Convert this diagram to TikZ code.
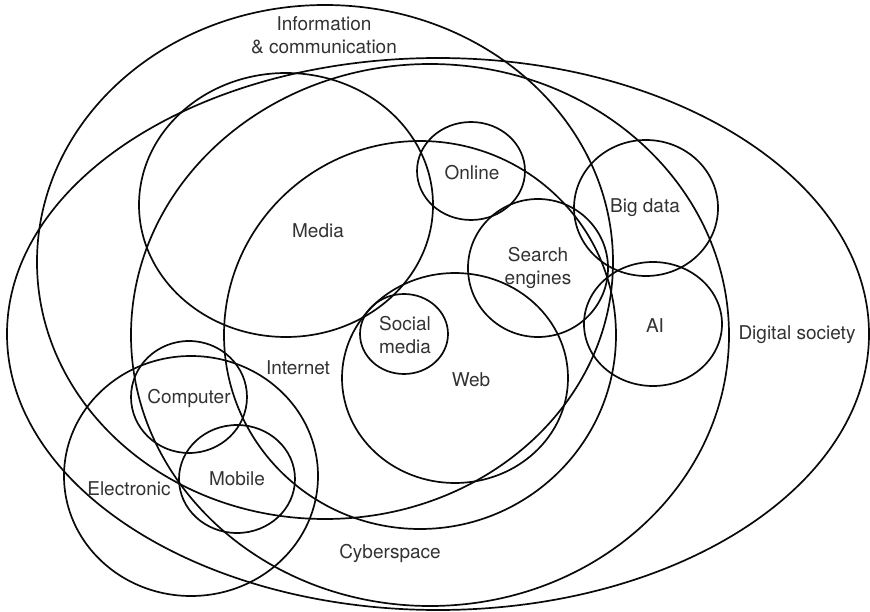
\documentclass[tikz,border=0pt]{standalone}
\usepackage{fontspec}
\setsansfont{TeX Gyre Heros}
\definecolor{ringcolor}{RGB}{10,10,10}
\definecolor{labelcolor}{RGB}{50,50,50}

\begin{document}
\begin{tikzpicture}[x=1pt, y=-1pt, font=\sffamily\fontsize{19}{23}\selectfont,
    ring/.style={draw=ringcolor, line width=1.7pt},
    lbl/.style={text=labelcolor, align=center, inner sep=0pt}]

  \useasboundingbox (0,0) rectangle (870,612);

  % ---- large domains ----
  \foreach \name/\cx/\cy/\rx/\ry in {dig/438/334/431/276, info/325/262/288/257,
                                      cyber/430/335/299/271, inet/420/335/196/194} {
    \coordinate (\name) at (\cx,\cy);
    \draw[ring] (\name) ellipse [x radius=\rx, y radius=\ry];
  }

  % ---- smaller topics ----
  \foreach \name/\cx/\cy/\rx/\ry in {media/286/205/147/132, online/471/171/54/49,
                                      search/538/268/70/69, bigdata/646/208/72/68,
                                      ai/653/324/69/62, social/404/334/44/40,
                                      web/455/378/113/105, comp/189/397/58/56,
                                      mobile/237/479/58/54, elec/191/476/127/120} {
    \coordinate (\name) at (\cx,\cy);
    \draw[ring] (\name) ellipse [x radius=\rx, y radius=\ry];
  }

  % ---- labels ----
  \node[lbl] (info-lbl) at (324,35) {Information\\\& communication};
  \node[lbl] (media-lbl) at (318,231) {Media};
  \node[lbl] (online-lbl) at (472,173) {Online};
  \node[lbl] (bigdata-lbl) at (645,208) {Big data};
  \node[lbl] (search-lbl) at (538,268) {Search\\engines};
  \node[lbl] (ai-lbl) at (655,326) {AI};
  \node[lbl] (dig-lbl) at (797,335) {Digital society};
  \node[lbl] (social-lbl) at (405,335) {Social\\media};
  \node[lbl] (inet-lbl) at (298,368) {Internet};
  \node[lbl] (web-lbl) at (471,380) {Web};
  \node[lbl] (comp-lbl) at (189,398) {Computer};
  \node[lbl] (mobile-lbl) at (237,479) {Mobile};
  \node[lbl] (elec-lbl) at (129,489) {Electronic};
  \node[lbl] (cyber-lbl) at (390,553) {Cyberspace};

\end{tikzpicture}
\end{document}
